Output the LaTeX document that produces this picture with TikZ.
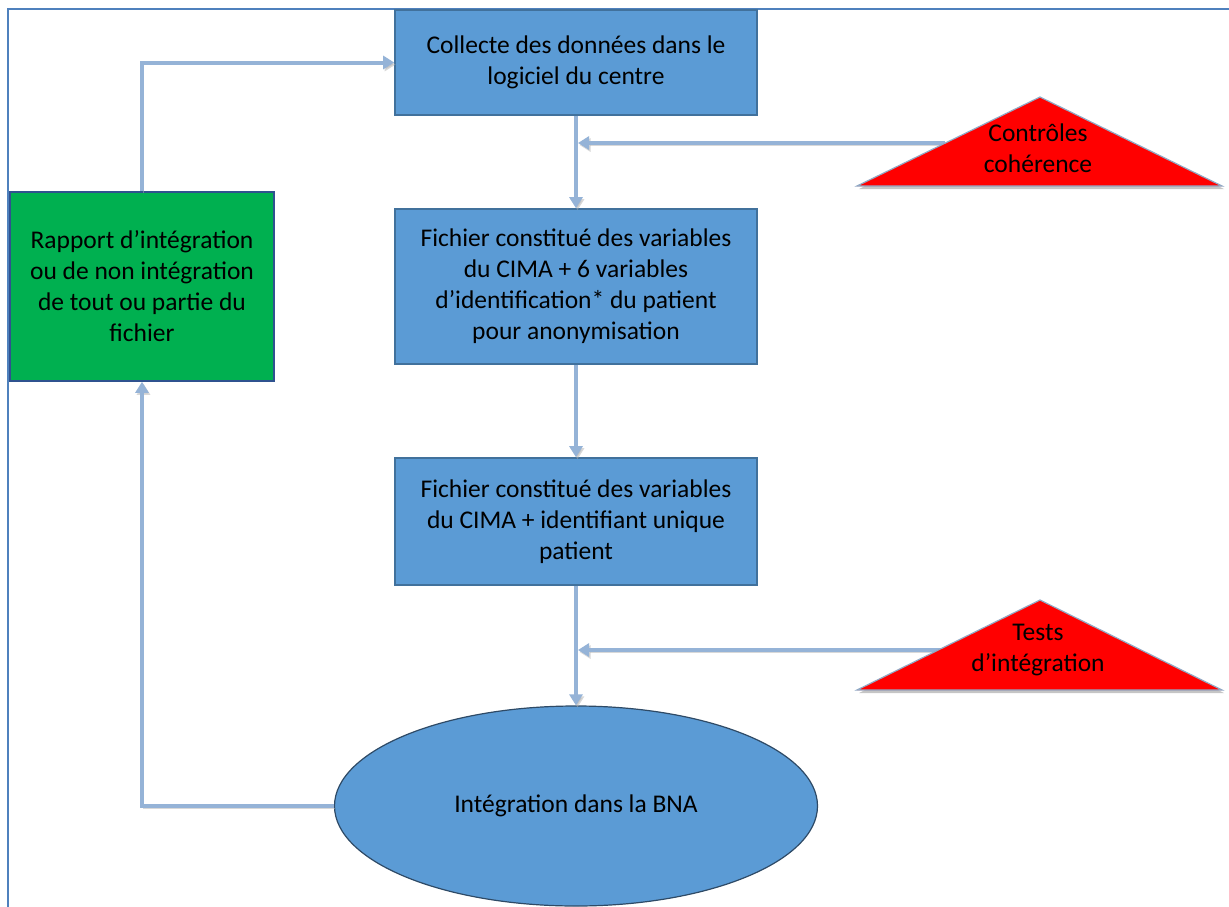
\documentclass[tikz,border=0pt]{standalone}
\usepackage{fontspec}
\setmainfont{Carlito}
\usetikzlibrary{arrows.meta,shadows,shapes.geometric}
\definecolor{boxblue}{HTML}{5B9BD5}
\definecolor{boxedge}{HTML}{41719C}
\definecolor{greenfill}{HTML}{00B050}
\definecolor{greenedge}{HTML}{2F528F}
\definecolor{arrowblue}{HTML}{95B3D7}
\definecolor{framecol}{HTML}{4F81BD}
\definecolor{elledge}{HTML}{2E4A66}
\tikzset{
  txt/.style={font=\fontsize{25.5bp}{31bp}\selectfont},
  stepbox/.style={txt, draw=boxedge, line width=1.6bp, fill=boxblue, minimum width=362bp, minimum height=105bp, align=center, inner sep=0pt, text=black},
  greenbox/.style={txt, draw=greenedge, line width=1.6bp, fill=greenfill, minimum width=264bp, minimum height=189bp, align=center, inner sep=0pt},
  ellbox/.style={txt, draw=elledge, line width=1.2bp, fill=boxblue, ellipse, minimum width=483bp, minimum height=200bp, inner sep=0pt},
  tri/.style={fill=red, draw=arrowblue!80!gray, line width=1.2bp, drop shadow={shadow xshift=2bp, shadow yshift=-3bp, opacity=0.45}},
  trilabel/.style={txt, align=center, inner sep=0pt},
  arr/.style={draw=arrowblue, line width=4bp, -{Triangle[width=13bp,length=11bp]},
    preaction={draw=black!30, opacity=0.5, transform canvas={xshift=1.5bp,yshift=-2bp}}},
}
\begin{document}
\begin{tikzpicture}[x=1bp,y=-1bp]
\useasboundingbox (0,0) rectangle (1229,907);
\fill[white] (0,0) rectangle (1229,907);
% frame
\draw[framecol, line width=2bp] (8,907) -- (8,9) -- (1229,9);

% boxes
\node[stepbox] (b1) at (576,62.5) {Collecte des données dans le\\logiciel du centre};
\node[stepbox, minimum height=155bp] (b2) at (576,286.5) {Fichier constitué des variables\\du CIMA + 6 variables\\d’identification* du patient\\pour anonymisation};
\node[stepbox, minimum height=127bp] (b3) at (576,521.5) {Fichier constitué des variables\\du CIMA + identifiant unique\\patient};
\node[greenbox] (g) at (142,286.5) {Rapport d’intégration\\ou de non intégration\\de tout ou partie du\\fichier};
\node[ellbox] (e) at (576,806) {Intégration dans la BNA};

% connectors
\draw[arr] (b1.south) -- (b2.north);
\draw[arr] (b2.south) -- (b3.north);
\draw[arr] (b3.south) -- (e.north);
\draw[arr] (e.west) -- (e.west -| g.south) -- (g.south);
\draw[arr] (g.north) |- (b1.west);

% horizontal feeds (drawn beneath triangles)
\coordinate (c1) at (945,143);
\coordinate (j1) at (578,143);
\coordinate (c2) at (945,650);
\coordinate (j2) at (578,650);
\draw[arr] (c1) -- (j1);
\draw[arr] (c2) -- (j2);

% triangles
\coordinate (t1a) at (1040,97);
\coordinate (t1l) at (857,186);
\coordinate (t1r) at (1222,186);
\path[tri] (t1l) -- (t1a) -- (t1r) -- cycle;
\node[trilabel] (t1) at (1038,148) {Contrôles\\cohérence};

\coordinate (t2a) at (1040,600);
\coordinate (t2l) at (857,690);
\coordinate (t2r) at (1222,690);
\path[tri] (t2l) -- (t2a) -- (t2r) -- cycle;
\node[trilabel] (t2) at (1038,650) {Tests\\d’intégration};
\end{tikzpicture}
\end{document}
